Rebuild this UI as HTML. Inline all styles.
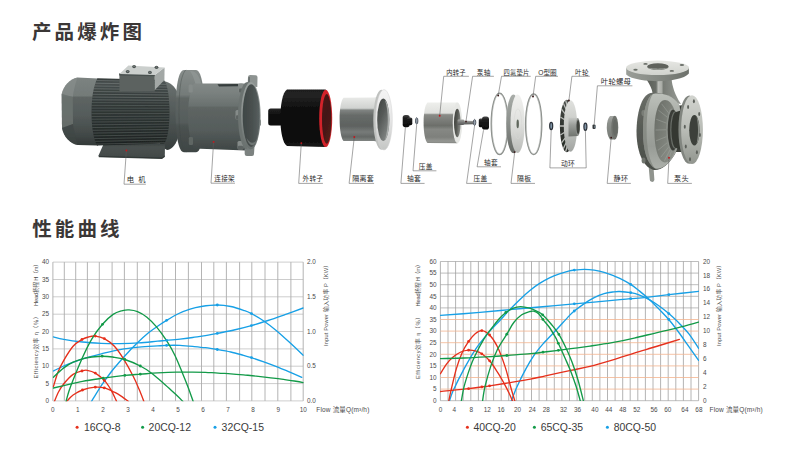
<!DOCTYPE html>
<html lang="en"><head><meta charset="utf-8"><title>产品爆炸图 性能曲线</title>
<style>html,body{margin:0;padding:0;background:#fff}svg{display:block}</style></head>
<body>
<svg width="799" height="453" viewBox="0 0 799 453">
<rect width="799" height="453" fill="#fff"/>
<g font-family="'Liberation Sans','Noto Sans CJK SC',sans-serif" font-weight="bold" font-size="19.5" fill="#3b3736" letter-spacing="3.1"><text x="32" y="38.6">产品爆炸图</text><text x="32.2" y="235.6">性能曲线</text></g>
<defs><filter id="soft" x="-5%" y="-5%" width="110%" height="110%"><feGaussianBlur stdDeviation="0.45"/></filter><linearGradient id="mFan" x1="0" y1="0" x2="0" y2="1"><stop offset="0" stop-color="#7c8381"/><stop offset="0.27" stop-color="#737a78"/><stop offset="0.29" stop-color="#5e6563"/><stop offset="0.55" stop-color="#555c5b"/><stop offset="0.8" stop-color="#454c4b"/><stop offset="1" stop-color="#333938"/></linearGradient><linearGradient id="mBody" x1="0" y1="0" x2="0" y2="1"><stop offset="0" stop-color="#313837"/><stop offset="0.07" stop-color="#495050"/><stop offset="0.2" stop-color="#3b4241"/><stop offset="0.45" stop-color="#2f3635"/><stop offset="0.8" stop-color="#252b2a"/><stop offset="1" stop-color="#1d2221"/></linearGradient><linearGradient id="mBell" x1="0" y1="0" x2="0" y2="1"><stop offset="0" stop-color="#6c7371"/><stop offset="0.3" stop-color="#5a6160"/><stop offset="0.7" stop-color="#474e4d"/><stop offset="1" stop-color="#363d3c"/></linearGradient><linearGradient id="mFoot" x1="0" y1="0" x2="0" y2="1"><stop offset="0" stop-color="#363d3c"/><stop offset="0.3" stop-color="#4a5150"/><stop offset="1" stop-color="#414847"/></linearGradient><linearGradient id="bRim" x1="0" y1="0" x2="0" y2="1"><stop offset="0" stop-color="#7d8482"/><stop offset="0.3" stop-color="#656c6a"/><stop offset="0.7" stop-color="#4f5655"/><stop offset="1" stop-color="#3e4544"/></linearGradient><linearGradient id="bFace" x1="0" y1="0" x2="0" y2="1"><stop offset="0" stop-color="#878d8b"/><stop offset="0.25" stop-color="#767d7b"/><stop offset="0.6" stop-color="#616866"/><stop offset="1" stop-color="#4b5251"/></linearGradient><linearGradient id="bBody" x1="0" y1="0" x2="0" y2="1"><stop offset="0" stop-color="#828886"/><stop offset="0.14" stop-color="#7a817f"/><stop offset="0.33" stop-color="#6a716f"/><stop offset="0.36" stop-color="#5e6563"/><stop offset="0.7" stop-color="#555c5b"/><stop offset="0.85" stop-color="#4a5150"/><stop offset="1" stop-color="#3f4645"/></linearGradient><linearGradient id="bIn" x1="0" y1="0" x2="1" y2="0"><stop offset="0" stop-color="#3f4645"/><stop offset="0.6" stop-color="#4a5150"/><stop offset="1" stop-color="#586060"/></linearGradient><linearGradient id="bRing" x1="0" y1="0" x2="0" y2="1"><stop offset="0" stop-color="#9aa09e"/><stop offset="0.5" stop-color="#868c8a"/><stop offset="1" stop-color="#686f6d"/></linearGradient><linearGradient id="bFl" x1="0" y1="0" x2="0" y2="1"><stop offset="0" stop-color="#878d8b"/><stop offset="0.3" stop-color="#747b79"/><stop offset="0.345" stop-color="#5f6664"/><stop offset="0.64" stop-color="#555c5b"/><stop offset="0.68" stop-color="#4b5251"/><stop offset="1" stop-color="#3e4544"/></linearGradient><linearGradient id="oStub" x1="0" y1="0" x2="0" y2="1"><stop offset="0" stop-color="#242424"/><stop offset="0.3" stop-color="#121212"/><stop offset="1" stop-color="#080808"/></linearGradient><linearGradient id="oBody" x1="0" y1="0" x2="0" y2="1"><stop offset="0" stop-color="#1d1d1d"/><stop offset="0.1" stop-color="#242424"/><stop offset="0.3" stop-color="#111111"/><stop offset="0.7" stop-color="#0a0a0a"/><stop offset="1" stop-color="#141414"/></linearGradient><linearGradient id="oIn" x1="0" y1="0" x2="0.6" y2="1"><stop offset="0" stop-color="#4c1b18"/><stop offset="0.5" stop-color="#431614"/><stop offset="1" stop-color="#531c1a"/></linearGradient><linearGradient id="iBody" x1="0" y1="0" x2="0" y2="1"><stop offset="0" stop-color="#ecedeb"/><stop offset="0.105" stop-color="#e8e9e7"/><stop offset="0.3" stop-color="#d0d2d0"/><stop offset="0.335" stop-color="#808482"/><stop offset="0.43" stop-color="#676b69"/><stop offset="0.63" stop-color="#5e6260"/><stop offset="0.74" stop-color="#777b79"/><stop offset="0.83" stop-color="#656967"/><stop offset="0.907" stop-color="#808482"/><stop offset="1" stop-color="#a0a3a1"/></linearGradient><linearGradient id="iHole" x1="0" y1="0" x2="0.7" y2="1"><stop offset="0" stop-color="#3f4341"/><stop offset="0.45" stop-color="#555957"/><stop offset="1" stop-color="#838785"/></linearGradient><linearGradient id="iFl" x1="0" y1="0" x2="0" y2="1"><stop offset="0" stop-color="#f4f4f4"/><stop offset="0.5" stop-color="#e6e6e6"/><stop offset="1" stop-color="#c4c6c4"/></linearGradient><linearGradient id="blk" x1="0" y1="0" x2="0" y2="1"><stop offset="0" stop-color="#4a4a4a"/><stop offset="0.25" stop-color="#1e1e1e"/><stop offset="1" stop-color="#0c0c0c"/></linearGradient><linearGradient id="rBody" x1="0" y1="0" x2="0" y2="1"><stop offset="0" stop-color="#eeefec"/><stop offset="0.26" stop-color="#dfe0dd"/><stop offset="0.3" stop-color="#8a8c88"/><stop offset="0.5" stop-color="#747672"/><stop offset="0.57" stop-color="#6c6e6a"/><stop offset="0.66" stop-color="#868884"/><stop offset="0.85" stop-color="#7e807c"/><stop offset="0.95" stop-color="#949692"/><stop offset="1" stop-color="#848682"/></linearGradient><linearGradient id="rHole" x1="0" y1="0" x2="1" y2="0.3"><stop offset="0" stop-color="#3c3e3a"/><stop offset="0.55" stop-color="#575954"/><stop offset="1" stop-color="#858783"/></linearGradient><linearGradient id="sh" x1="0" y1="0" x2="0" y2="1"><stop offset="0" stop-color="#a9aaa8"/><stop offset="0.5" stop-color="#777977"/><stop offset="1" stop-color="#575957"/></linearGradient><linearGradient id="pRim" x1="0" y1="0" x2="0" y2="1"><stop offset="0" stop-color="#a9ada9"/><stop offset="0.5" stop-color="#8a8e8a"/><stop offset="1" stop-color="#666a66"/></linearGradient><linearGradient id="pFace" x1="0" y1="0" x2="0" y2="1"><stop offset="0" stop-color="#f1f1ef"/><stop offset="0.5" stop-color="#dfe0dd"/><stop offset="1" stop-color="#b9bbb8"/></linearGradient><linearGradient id="impB" x1="0" y1="0" x2="0" y2="1"><stop offset="0" stop-color="#4a4e4a"/><stop offset="0.5" stop-color="#30342f"/><stop offset="1" stop-color="#2a2e29"/></linearGradient><linearGradient id="impF" x1="0" y1="0" x2="0" y2="1"><stop offset="0" stop-color="#e0e1de"/><stop offset="0.5" stop-color="#c6c8c4"/><stop offset="1" stop-color="#a1a4a1"/></linearGradient><linearGradient id="hub" x1="0" y1="0" x2="0" y2="1"><stop offset="0" stop-color="#c9cbc8"/><stop offset="0.4" stop-color="#9a9d99"/><stop offset="1" stop-color="#6f736e"/></linearGradient><linearGradient id="stB" x1="0" y1="0" x2="0" y2="1"><stop offset="0" stop-color="#a5a8a4"/><stop offset="0.3" stop-color="#8c908b"/><stop offset="1" stop-color="#767a75"/></linearGradient><linearGradient id="phTop" x1="0" y1="0" x2="0" y2="1"><stop offset="0" stop-color="#e6e7e3"/><stop offset="1" stop-color="#d0d2cd"/></linearGradient><linearGradient id="phTh" x1="0" y1="0" x2="1" y2="0"><stop offset="0" stop-color="#9a9e98"/><stop offset="0.5" stop-color="#858983"/><stop offset="1" stop-color="#6d716b"/></linearGradient><linearGradient id="phNeck" x1="0" y1="0" x2="1" y2="0"><stop offset="0" stop-color="#585c55"/><stop offset="0.3" stop-color="#6a6e68"/><stop offset="0.36" stop-color="#bcbeb9"/><stop offset="0.46" stop-color="#a9aca6"/><stop offset="0.5" stop-color="#777b75"/><stop offset="1" stop-color="#999d97"/></linearGradient><linearGradient id="phOut" x1="0" y1="0" x2="1" y2="0"><stop offset="0" stop-color="#4a4e48"/><stop offset="0.12" stop-color="#6c706a"/><stop offset="0.3" stop-color="#7b7f79"/><stop offset="1" stop-color="#8c908a"/></linearGradient><linearGradient id="phRim" x1="0" y1="0" x2="0.4" y2="1"><stop offset="0" stop-color="#c6c9c4"/><stop offset="0.5" stop-color="#b0b4ae"/><stop offset="1" stop-color="#8f938d"/></linearGradient><linearGradient id="phIn" x1="0" y1="0" x2="1" y2="1"><stop offset="0" stop-color="#50544e"/><stop offset="0.5" stop-color="#686c64"/><stop offset="1" stop-color="#82867f"/></linearGradient><linearGradient id="phFl" x1="0" y1="0" x2="0" y2="1"><stop offset="0" stop-color="#d2d4cf"/><stop offset="0.5" stop-color="#b9bcb6"/><stop offset="1" stop-color="#92968f"/></linearGradient><linearGradient id="phEdge" x1="0" y1="0" x2="0" y2="1"><stop offset="0" stop-color="#6a6e68"/><stop offset="0.5" stop-color="#565a54"/><stop offset="1" stop-color="#4a4e48"/></linearGradient><linearGradient id="phTor" x1="0" y1="0" x2="0" y2="1"><stop offset="0" stop-color="#bcc0ba"/><stop offset="0.35" stop-color="#a6aaa4"/><stop offset="0.7" stop-color="#989c96"/><stop offset="1" stop-color="#acb0aa"/></linearGradient><linearGradient id="phCone" x1="0" y1="0" x2="1" y2="0.6"><stop offset="0" stop-color="#666a64"/><stop offset="0.5" stop-color="#7a7e77"/><stop offset="1" stop-color="#8c9089"/></linearGradient></defs>
<g filter="url(#soft)">
<path d="M162 81 C174 82 181.5 93 181.5 113 C181.5 134 176 149 167 150 L160 146 Z" fill="url(#mBell)"/>
<path d="M104.5 142 L165 143.5 L164.8 157 L162 158.9 L98.9 157.2 L98.5 155.6 Z" fill="url(#mFoot)"/>
<path d="M98.9 156.4 L162 158 L164.8 156" stroke="#2a302f" stroke-width="0.8" fill="none"/>
<path d="M77.5 77.4 L98 78.4 L98 145.6 L77.5 145 C70 143.5 63.8 137 62 128 L61.7 94 C63.5 85.5 70 79 77.5 77.4 Z" fill="url(#mFan)"/>
<path d="M77.5 77.4 C70 79 63.5 85.5 61.7 94 L72.8 97 C74 88 76 82 77.5 77.4 Z" fill="#8c9290" opacity="0.55"/>
<path d="M72.8 97 L61.7 94 L62 128 L73 124 Z" fill="#6b7270" opacity="0.85"/>
<path d="M73 124 L62 128 C63.8 137 70 143.5 77.5 145 C76 139 74 132 73 124 Z" fill="#3f4645" opacity="0.6"/>
<path d="M97.5 78.3 L164 79.9 C167.5 84 169.5 98 169.5 112 C169.5 127 167.5 140 164 143.4 L97 145.6 C93 138 91.5 125 91.5 112 C91.5 98 93.5 86 97.5 78.3 Z" fill="url(#mBody)"/>
<clipPath id="mbc"><path d="M97.5 78.3 L164 79.9 C167.5 84 169.5 98 169.5 112 C169.5 127 167.5 140 164 143.4 L97 145.6 C93 138 91.5 125 91.5 112 C91.5 98 93.5 86 97.5 78.3 Z"/></clipPath>
<path d="M91 102.59L170 102.95M91 105.37L170 105.59M91 108.14L170 108.23M91 110.91L170 110.88M91 113.69L170 113.52M91 116.46L170 116.17M91 119.23L170 118.81M91 122.01L170 121.45M91 124.78L170 124.10M91 127.56L170 126.74M91 130.33L170 129.38M91 133.10L170 132.03M91 135.88L170 134.67M91 138.65L170 137.31M91 141.43L170 139.96M91 144.20L170 142.60" stroke="#7f8684" stroke-width="0.9" opacity="0.4" clip-path="url(#mbc)" fill="none"/>
<path d="M91 80.40L170 81.80M91 83.17L170 84.44M91 85.95L170 87.09M91 88.72L170 89.73M91 91.50L170 92.37M91 94.27L170 95.02M91 97.04L170 97.66M91 99.82L170 100.30" stroke="#8a918f" stroke-width="0.9" opacity="0.5" clip-path="url(#mbc)" fill="none"/>
<path d="M119.4 73.9 L154.8 74.9 L154.8 91.6 L119.4 91.2 Z" fill="#5b6260"/>
<path d="M119.2 73.3 L155 74.3 L155 76.2 L119.2 75.4 Z" fill="#4a5150"/>
<path d="M154.8 74.9 L164.6 67.4 L164.4 80 L154.8 90 Z" fill="#a3a8a6"/>
<path d="M119.4 73.9 L128.4 65.4 L164.6 67.4 L154.8 74.9 Z" fill="#cbcfcd"/>
<ellipse cx="134.1" cy="66.6" rx="1.9" ry="1.6" fill="#4d5453"/>
<ellipse cx="134.1" cy="66.4" rx="0.8" ry="0.7" fill="#7a817f"/>
<ellipse cx="156.5" cy="67.3" rx="1.9" ry="1.6" fill="#4d5453"/>
<ellipse cx="156.5" cy="67.1" rx="0.8" ry="0.7" fill="#7a817f"/>
<ellipse cx="127.7" cy="71.6" rx="1.9" ry="1.6" fill="#4d5453"/>
<ellipse cx="127.7" cy="71.4" rx="0.8" ry="0.7" fill="#7a817f"/>
<ellipse cx="149.9" cy="72.4" rx="1.9" ry="1.6" fill="#4d5453"/>
<ellipse cx="149.9" cy="72.2" rx="0.8" ry="0.7" fill="#7a817f"/>
<path d="M184 69.9 C178.5 69.9 175.6 86 175.6 111 C175.6 136 178.5 152.3 184 152.3 L196 152.3 C201.2 152.3 204.2 136 204.2 111 C204.2 86 201.2 69.9 196 69.9 Z" fill="url(#bFl)"/>
<path d="M186 69.9 C181 74 179 90 179 111 C179 132 181 148 186 152.3" stroke="#3f4645" stroke-width="0.7" fill="none" opacity="0.55"/>
<path d="M190 71 C196 70.5 200.5 76 202.6 90 L196 86 C194.5 80 192.5 74 190 71 Z" fill="#959b99" opacity="0.6"/>
<path d="M194 83.6 L246 83.6 L246 150.5 L194 148.6 C189.5 140 188 126 188 116 C188 104 189.5 92 194 83.6 Z" fill="url(#bBody)"/>
<rect x="188.6" y="84.5" width="4.2" height="8" rx="1.3" fill="#858b89"/>
<rect x="188.8" y="137" width="4.2" height="8" rx="1.3" fill="#5f6664"/>
<path d="M217.5 84.2 L238 84 L238 86.3 L219 86.6 Z" fill="#363d3c"/>
<rect x="238.5" y="83.5" width="5.0" height="9.0" rx="1.5" fill="#858b89"/>
<rect x="239.0" y="88.5" width="4.0" height="4.0" rx="1" fill="#5d6462"/>
<rect x="235.5" y="110.0" width="6.0" height="9.5" rx="1.5" fill="#858b89"/>
<rect x="236.0" y="115.2" width="5.0" height="4.3" rx="1" fill="#5d6462"/>
<rect x="237.5" y="141.0" width="6.0" height="8.5" rx="1.5" fill="#858b89"/>
<rect x="238.0" y="145.7" width="5.0" height="3.8" rx="1" fill="#5d6462"/>
<path d="M247.6 86 L248 77 Q248.2 75 250.2 75 L255.6 75.2 Q257.6 75.4 257.5 77.5 L257.3 87 Z" fill="#8d9391"/>
<path d="M248 84 L248.3 77.2 L250 77 L250 85 Z" fill="#6a716f"/>
<path d="M244.6 145 L244.7 154 Q244.8 156 246.8 156 L252 156 Q254 156 254 154 L254.6 145 Z" fill="#7b8280"/>
<path d="M257.5 119 L259.8 119.2 Q261 119.4 261 120.8 L261 124.4 Q261 125.8 259.8 126 L257.5 126.2 Z" fill="#8a908e"/>
<ellipse cx="247.2" cy="115.8" rx="9.2" ry="33.8" fill="#6c7371"/>
<rect x="247.2" y="82" width="3.6" height="67.6" fill="#757c7a"/>
<ellipse cx="250.8" cy="115.7" rx="9.8" ry="33.6" fill="url(#bRing)"/>
<ellipse cx="251.2" cy="115.6" rx="8.5" ry="31.4" fill="url(#bIn)"/>
<path d="M246.5 138 C249 146 254 148.5 257 139.5 C254 144 250 144 246.5 138 Z" fill="#6e7573"/>
<rect x="268.2" y="108.5" width="16" height="17" rx="2.5" fill="url(#oStub)"/>
<path d="M287 89.6 L325.7 89.6 L325.7 147 L287 146 C282.5 143 280.4 131 280.4 118.2 C280.4 105 282.5 92.5 287 89.6 Z" fill="url(#oBody)"/>
<ellipse cx="325.7" cy="118.4" rx="6.5" ry="28.7" fill="#d3242b"/>
<ellipse cx="326.7" cy="118.9" rx="4.7" ry="24.8" fill="url(#oIn)"/>
<path d="M343.5 97.7 L374 97.6 Q379 97 381 92 L381 146 Q379 141.5 374 141 L343.5 141 C341 138.5 339.6 129 339.6 119.3 C339.6 109 341 100 343.5 97.7 Z" fill="url(#iBody)"/>
<ellipse cx="381.6" cy="119.8" rx="8.3" ry="30" fill="#bfc1bf"/>
<ellipse cx="384" cy="119.8" rx="8.3" ry="30.2" fill="url(#iFl)" stroke="#d2d3d2" stroke-width="0.5"/>
<ellipse cx="383.3" cy="119.8" rx="6.1" ry="21.2" fill="url(#iHole)"/>
<path d="M385 100 C388.5 104 389.4 113 389.4 119.8 C389.4 127 388.5 135 385 140 C387 133 387.8 126 387.8 119.8 C387.8 113 387 106 385 100 Z" fill="#a9adab"/>
<rect x="402.7" y="115" width="7" height="12.2" rx="2.6" fill="url(#blk)"/>
<rect x="407" y="117.4" width="5.3" height="7.8" rx="1.6" fill="url(#blk)"/>
<ellipse cx="416.7" cy="120.9" rx="1.2" ry="3.2" fill="#97a2ae" stroke="#4a5058" stroke-width="0.9"/>
<path d="M427.5 102.6 L457.4 102.5 L457.4 143.2 L427.5 143.1 C425 141 423.6 132 423.6 122.8 C423.6 113 425 105 427.5 102.6 Z" fill="url(#rBody)"/>
<ellipse cx="457.4" cy="122.8" rx="4.7" ry="20.3" fill="#e6e7e4"/>
<ellipse cx="457.3" cy="123" rx="3.3" ry="14.2" fill="url(#rHole)"/>
<rect x="457.6" y="119.4" width="6.5" height="5.7" rx="1" fill="url(#sh)"/>
<path d="M464 120.6 L473.5 120.9 L473.5 124.3 L464 124.4 Z" fill="url(#sh)"/>
<ellipse cx="474.6" cy="122.4" rx="1.2" ry="3" fill="#97a2ae" stroke="#4a5058" stroke-width="0.9"/>
<rect x="478.8" y="118.6" width="5.4" height="8.6" rx="1.5" fill="url(#blk)"/>
<rect x="482" y="116.4" width="7" height="13.2" rx="2.6" fill="url(#blk)"/>
<ellipse cx="499.6" cy="123.8" rx="8.3" ry="30.6" fill="none" stroke="#8c908c" stroke-width="1.5"/>
<ellipse cx="499.6" cy="123.8" rx="7.6" ry="29.8" fill="none" stroke="#cfd1cf" stroke-width="0.5"/>
<ellipse cx="513.4" cy="123.8" rx="7.2" ry="29.4" fill="url(#pRim)"/>
<ellipse cx="517.6" cy="123.8" rx="7.1" ry="29.2" fill="url(#pFace)"/>
<ellipse cx="517.9" cy="123.8" rx="3.8" ry="15" fill="none" stroke="#d6d7d5" stroke-width="0.5"/>
<ellipse cx="517.7" cy="123.9" rx="1.2" ry="4.4" fill="#5e665c"/>
<ellipse cx="533.7" cy="124.2" rx="8" ry="30.3" fill="none" stroke="#8c908c" stroke-width="1.5"/>
<ellipse cx="533.7" cy="124.2" rx="7.3" ry="29.5" fill="none" stroke="#cfd1cf" stroke-width="0.5"/>
<ellipse cx="551.2" cy="126" rx="1.5" ry="3.6" fill="#7f94a6" stroke="#2a3038" stroke-width="1.2"/>
<ellipse cx="566.8" cy="126" rx="6.9" ry="26.2" fill="url(#impB)"/>
<path d="M565.6 100.2L567.7 107.3M563.3 103.3L566.2 109.5M561.5 109.2L565.1 113.8M560.3 117.0L564.3 119.5M559.9 126.0L564.0 126.0M560.3 135.0L564.3 132.5M561.5 142.8L565.1 138.2M563.3 148.7L566.2 142.5M565.6 151.8L567.7 144.7" stroke="#b9bbb8" stroke-width="1.3" fill="none"/>
<ellipse cx="570.5" cy="126" rx="6.7" ry="25.8" fill="url(#impF)"/>
<path d="M568.5 117.4 L577.9 118 L577.9 136 L568.5 136.6 Z" fill="url(#hub)"/>
<ellipse cx="577.9" cy="127" rx="2.1" ry="9" fill="#8f928e"/>
<ellipse cx="578.1" cy="127.1" rx="1.6" ry="7" fill="#3f433e"/>
<ellipse cx="585.4" cy="126.8" rx="1.5" ry="3.6" fill="#7f94a6" stroke="#2a3038" stroke-width="1.2"/>
<rect x="592.5" y="124.5" width="3" height="4.6" rx="1" fill="#34383a"/>
<ellipse cx="595.1" cy="126.8" rx="0.9" ry="1.6" fill="#7a8890"/>
<path d="M610 115.9 L614.8 115.9 L614.8 139.4 L610 139.4 C608 137 606.8 132 606.8 127.6 C606.8 122 608 118 610 115.9 Z" fill="url(#stB)"/>
<ellipse cx="614.8" cy="127.6" rx="3.5" ry="11.8" fill="#6f736e"/>
<ellipse cx="615.1" cy="127.6" rx="2.3" ry="8.2" fill="#666a65"/>
<path d="M648.6 166 L653.6 168.5 L654.4 180 Q653.6 182.3 651.6 181.8 Q649.6 181.3 649.8 179.4 Z" fill="#90948e"/>
<path d="M645.5 78 L671.5 78 C672 86 675 95 681 104 L651 100 C655 94 651 86 645.5 78 Z" fill="url(#phNeck)"/>
<path d="M626.2 68 L626.2 74.5 C631 79.5 648 81.2 657.6 81.2 C669 81.2 685 78.8 688.9 73.5 L688.9 68 Z" fill="url(#phTh)"/>
<ellipse cx="657.6" cy="67.8" rx="31.5" ry="7.2" fill="url(#phTop)"/>
<ellipse cx="657.9" cy="66.7" rx="10.8" ry="3.4" fill="#5e625c"/>
<path d="M647.4 67.6 C650 70.6 666 70.6 668.4 67.6 C666 69 650 69 647.4 67.6 Z" fill="#a5a9a3"/>
<ellipse cx="645.5" cy="63.9" rx="2.2" ry="0.95" fill="#6b6f69"/>
<ellipse cx="635.5" cy="69.8" rx="2.2" ry="0.95" fill="#6b6f69"/>
<ellipse cx="681.9" cy="65.0" rx="2.2" ry="0.95" fill="#6b6f69"/>
<ellipse cx="671.8" cy="70.9" rx="2.2" ry="0.95" fill="#6b6f69"/>
<path d="M668 107 L684 105 L684 152 L668 152 Z" fill="#3c403a"/>
<path d="M650.5 93 C643 95 637 108 636.5 131 C636.5 150 642 166 652.8 169.7 C660 171 668 166 675 154 C681 142 682.5 120 679.5 106 C676 98 662 91 650.5 93 Z" fill="url(#phEdge)"/>
<ellipse cx="643.4" cy="113" rx="2" ry="3" fill="#7a7e78"/>
<ellipse cx="643.6" cy="160.5" rx="2" ry="3" fill="#70746e"/>
<path d="M653 94 C647 97 643 110 643 131 C643 150 647 164 655 168.4 C661.5 170 668 165 675 154 C681 142 682.5 120 679.5 106 C676 98 665 92 653 94 Z" fill="url(#phTor)"/>
<path d="M653 94 C647 97 643 110 643 131 C643 150 647 164 655 168.4 C649.5 162 646.6 148 646.6 131 C646.6 112 649 99 653 94 Z" fill="#7d817b" opacity="0.7"/>
<path d="M665 100 C672 100 677.5 113 677.5 131 C677.5 149 672 162.4 665 162.4 C658.6 162.4 654.4 149 654.4 131 C654.4 113 658.6 100 665 100 Z" fill="url(#phCone)"/>
<path d="M668.9 113.3L661.6 103.8M667.4 117.3L658.4 110.2M666.4 123.1L656.3 119.3M666.0 129.8L655.5 130.0M666.3 136.7L656.1 140.8M667.2 142.7L658.0 150.3M668.6 147.1L660.9 157.2M670.3 149.3L664.5 160.7M672.1 149.0L668.4 160.2" stroke="#a6aaa4" stroke-width="1" fill="none" opacity="0.45"/>
<ellipse cx="671.8" cy="130" rx="5.6" ry="21.5" fill="#8d918b"/>
<ellipse cx="673" cy="130" rx="5.3" ry="20.6" fill="#3a3e38"/>
<ellipse cx="675" cy="130" rx="4.8" ry="18.6" fill="#6a6e68"/>
<ellipse cx="676" cy="130" rx="4.6" ry="18" fill="#343832"/>
<path d="M676 112 L684 109.5 L684 150.5 L676 148 Z" fill="#343832"/>
<ellipse cx="689.2" cy="129.6" rx="10.8" ry="34.2" fill="#81857f"/>
<ellipse cx="692" cy="129.6" rx="10.9" ry="34.4" fill="url(#phFl)"/>
<ellipse cx="694.4" cy="130.2" rx="5.2" ry="15.2" fill="#3c403a"/>
<path d="M696.5 116.5 C699 121 699.6 126 699.6 130.2 C699.6 135 699 140 696.5 144 C697.6 139 698 135 698 130.2 C698 126 697.6 121 696.5 116.5 Z" fill="#8a8e88"/>
<ellipse cx="693.9" cy="101.2" rx="1" ry="2" fill="#5d615b"/>
<ellipse cx="699.2" cy="114.0" rx="1" ry="2" fill="#5d615b"/>
<ellipse cx="699.9" cy="134.9" rx="1" ry="2" fill="#5d615b"/>
<ellipse cx="696.9" cy="152.3" rx="1" ry="2" fill="#5d615b"/>
<ellipse cx="690.0" cy="159.2" rx="1" ry="2" fill="#5d615b"/>
<ellipse cx="685.8" cy="146.5" rx="1" ry="2" fill="#5d615b"/>
<ellipse cx="684.8" cy="126.8" rx="1" ry="2" fill="#5d615b"/>
<ellipse cx="688.1" cy="107.0" rx="1" ry="2" fill="#5d615b"/>
</g>
<path d="M126.4 150.5L124.0 184.2L145.9 184.2" stroke="#5a5a5a" stroke-width="0.55" fill="none"/>
<circle cx="126.4" cy="150.5" r="0.95" fill="#c4161c"/>
<path d="M213.6 141.9L211.0 183.2L235.0 183.2" stroke="#5a5a5a" stroke-width="0.55" fill="none"/>
<circle cx="213.6" cy="141.9" r="0.95" fill="#c4161c"/>
<path d="M301.3 143.1L298.7 183.4L322.9 183.4" stroke="#5a5a5a" stroke-width="0.55" fill="none"/>
<circle cx="301.3" cy="143.1" r="0.95" fill="#c4161c"/>
<path d="M354.3 137.0L349.1 183.4L374.1 183.4" stroke="#5a5a5a" stroke-width="0.55" fill="none"/>
<circle cx="354.3" cy="137.0" r="0.95" fill="#c4161c"/>
<path d="M405.4 127.1L400.9 183.4L424.6 183.4" stroke="#5a5a5a" stroke-width="0.55" fill="none"/>
<path d="M416.7 124.5L413.0 170.8L436.4 170.8" stroke="#5a5a5a" stroke-width="0.55" fill="none"/>
<path d="M439.7 115.8L443.7 76.3L468.9 76.3" stroke="#5a5a5a" stroke-width="0.55" fill="none"/>
<circle cx="439.7" cy="115.8" r="0.95" fill="#c4161c"/>
<path d="M466.0 121.1L472.6 76.3L493.9 76.3" stroke="#5a5a5a" stroke-width="0.55" fill="none"/>
<circle cx="466.0" cy="121.6" r="0.95" fill="#3a1a1a"/>
<path d="M474.6 125.5L466.6 183.4L491.8 183.4" stroke="#5a5a5a" stroke-width="0.55" fill="none"/>
<path d="M483.5 130.2L477.1 166.8L501.0 166.8" stroke="#5a5a5a" stroke-width="0.55" fill="none"/>
<path d="M498.2 95.6L501.5 76.3L530.7 76.3" stroke="#5a5a5a" stroke-width="0.55" fill="none"/>
<circle cx="498.2" cy="95.6" r="0.95" fill="#3a1a1a"/>
<path d="M514.7 152.1L511.0 183.4L535.0 183.4" stroke="#5a5a5a" stroke-width="0.55" fill="none"/>
<circle cx="514.7" cy="152.1" r="0.95" fill="#3a1a1a"/>
<path d="M533.0 96.5L535.7 76.3L558.0 76.3" stroke="#5a5a5a" stroke-width="0.55" fill="none"/>
<circle cx="533.0" cy="96.5" r="0.95" fill="#3a1a1a"/>
<path d="M551.2 130.0L549.9 167.9L586.2 167.9L585.4 130.5" stroke="#5a5a5a" stroke-width="0.55" fill="none"/>
<path d="M568.9 100.5L571.9 76.3L589.8 76.3" stroke="#5a5a5a" stroke-width="0.55" fill="none"/>
<circle cx="568.9" cy="100.5" r="0.95" fill="#3a1a1a"/>
<path d="M594.2 124.4L597.4 85.8L632.4 85.8" stroke="#5a5a5a" stroke-width="0.55" fill="none"/>
<path d="M611.2 137.6L607.2 183.4L630.9 183.4" stroke="#5a5a5a" stroke-width="0.55" fill="none"/>
<circle cx="611.2" cy="137.6" r="0.95" fill="#3a1a1a"/>
<path d="M669.0 157.7L667.7 183.4L691.9 183.4" stroke="#5a5a5a" stroke-width="0.55" fill="none"/>
<circle cx="669.0" cy="157.7" r="0.95" fill="#c4161c"/>
<g font-family="'Liberation Sans','Noto Sans CJK SC',sans-serif" fill="#2b2b2b"><text x="126.7" y="182.4" font-size="7.30" textLength="18.9" lengthAdjust="spacing">电 机</text><text x="214.3" y="181.4" font-size="6.63" textLength="20.3" lengthAdjust="spacing">连接架</text><text x="302.6" y="181.4" font-size="6.63" textLength="20.3" lengthAdjust="spacing">外转子</text><text x="352.3" y="181.4" font-size="6.96" textLength="21.3" lengthAdjust="spacing">隔离套</text><text x="407.0" y="181.4" font-size="6.81" textLength="13.9" lengthAdjust="spacing">轴套</text><text x="418.8" y="168.9" font-size="6.66" textLength="13.6" lengthAdjust="spacing">压盖</text><text x="446.3" y="74.7" font-size="6.34" textLength="19.4" lengthAdjust="spacing">内转子</text><text x="476.8" y="74.7" font-size="6.66" textLength="13.6" lengthAdjust="spacing">泵轴</text><text x="473.4" y="181.4" font-size="6.71" textLength="13.7" lengthAdjust="spacing">压盖</text><text x="484.0" y="164.9" font-size="6.66" textLength="13.6" lengthAdjust="spacing">轴套</text><text x="503.6" y="74.7" font-size="6.30" textLength="25.7" lengthAdjust="spacing">四氟垫片</text><text x="517.1" y="181.4" font-size="6.81" textLength="13.9" lengthAdjust="spacing">隔板</text><text x="538.3" y="74.7" font-size="6.60" textLength="18.4" lengthAdjust="spacing">O型圈</text><text x="561.0" y="165.8" font-size="6.81" textLength="13.9" lengthAdjust="spacing">动环</text><text x="575.1" y="74.7" font-size="6.57" textLength="13.4" lengthAdjust="spacing">叶轮</text><text x="600.8" y="84.1" font-size="7.40" textLength="30.2" lengthAdjust="spacing">叶轮螺母</text><text x="613.5" y="181.4" font-size="7.10" textLength="14.5" lengthAdjust="spacing">静环</text><text x="674.0" y="181.4" font-size="7.20" textLength="14.7" lengthAdjust="spacing">泵头</text></g>
<path d="M52.9 262.1V400.9M64.3 262.1V400.9M75.7 262.1V400.9M87.4 262.1V400.9M99.3 262.1V400.9M112.1 262.1V400.9M124.4 262.1V400.9M137.3 262.1V400.9M149.6 262.1V400.9M162.4 262.1V400.9M175.5 262.1V400.9M188.4 262.1V400.9M201.5 262.1V400.9M213.8 262.1V400.9M226.4 262.1V400.9M239.6 262.1V400.9M251.8 262.1V400.9M265.0 262.1V400.9M277.8 262.1V400.9M290.9 262.1V400.9M303.2 262.1V400.9" stroke="#858585" stroke-width="0.62" fill="none"/>
<path d="M52.9 262.1H303.2M52.9 279.5H303.2M52.9 296.8H303.2M52.9 314.2H303.2M52.9 331.5H303.2M52.9 348.9H303.2M52.9 366.2H303.2M52.9 383.6H303.2M52.9 400.9H303.2" stroke="#adadad" stroke-width="0.62" fill="none"/>
<clipPath id="c1"><rect x="52.5" y="255" width="251.2" height="146.2"/></clipPath>
<g clip-path="url(#c1)" fill="none" stroke-width="1.35" stroke-linecap="round">
<path d="M91.4 401.5C93.1 398.9 98.1 390.5 101.3 385.7C104.5 380.9 107.6 376.6 110.7 372.5C113.8 368.4 117.0 364.9 120.1 361.3C123.2 357.7 126.3 354.3 129.4 351.0C132.5 347.7 135.7 344.6 138.8 341.6C141.9 338.6 145.1 335.7 148.2 333.1C151.3 330.6 154.5 328.4 157.6 326.3C160.7 324.2 163.1 322.4 166.6 320.3C170.1 318.2 174.9 315.4 178.8 313.5C182.7 311.6 186.3 310.3 190.1 309.1C193.8 307.9 196.8 307.2 201.3 306.5C205.8 305.8 212.4 305.0 217.3 305.0C222.2 305.0 226.4 305.6 230.8 306.5C235.2 307.4 240.1 309.1 243.5 310.3C246.9 311.5 248.0 311.8 251.4 313.6C254.8 315.4 259.6 318.1 263.8 321.0C268.0 323.9 272.3 327.2 276.5 330.7C280.7 334.2 284.8 338.0 289.2 342.1C293.6 346.2 300.9 353.0 303.2 355.2" stroke="#17a0e6"/>
<path d="M53.4 336.9C55.1 337.3 58.9 338.4 63.8 339.3C68.6 340.2 76.2 341.3 82.5 342.0C88.8 342.7 95.0 343.0 101.3 343.3C107.6 343.6 113.8 343.7 120.1 343.6C126.3 343.5 132.6 343.3 138.8 342.9C145.1 342.5 153.0 341.6 157.6 341.2C162.2 340.8 162.9 340.6 166.6 340.3C170.3 340.0 175.7 339.6 180.0 339.1C184.3 338.6 188.5 338.1 192.7 337.5C196.9 336.9 201.3 336.4 205.4 335.7C209.5 335.0 212.5 334.3 217.3 333.4C222.1 332.4 228.3 331.3 234.0 330.0C239.7 328.7 245.7 327.2 251.4 325.6C257.1 324.0 262.4 322.3 268.0 320.5C273.6 318.7 279.1 316.7 285.0 314.6C290.9 312.5 300.2 309.1 303.2 308.0" stroke="#17a0e6"/>
<path d="M53.4 371.0C55.1 370.2 58.9 368.0 63.8 366.0C68.6 364.0 76.2 360.8 82.5 358.8C88.8 356.8 95.0 355.3 101.3 353.8C107.6 352.3 113.8 350.7 120.1 349.6C126.3 348.5 132.6 347.8 138.8 347.2C145.1 346.6 153.0 346.2 157.6 345.9C162.2 345.6 162.9 345.5 166.6 345.4C170.3 345.3 175.7 345.2 180.0 345.4C184.3 345.6 188.5 346.0 192.7 346.4C196.9 346.8 201.3 347.2 205.4 347.7C209.5 348.2 213.1 348.8 217.3 349.5C221.5 350.2 226.4 351.0 230.8 352.0C235.2 353.0 240.1 354.4 243.5 355.3C246.9 356.2 248.0 356.5 251.4 357.6C254.8 358.7 259.6 360.4 263.8 361.9C268.0 363.4 272.3 365.0 276.5 366.7C280.7 368.4 285.0 370.0 289.2 371.8C293.4 373.6 299.7 376.4 301.8 377.3" stroke="#17a0e6"/>
<path d="M53.4 386.6C54.2 384.2 56.3 376.4 58.0 372.0C59.7 367.6 61.3 364.6 63.8 360.3C66.3 356.0 70.1 349.8 73.1 346.3C76.1 342.8 79.4 341.1 82.0 339.5C84.6 337.9 86.3 337.6 88.5 337.0C90.7 336.4 92.7 335.8 95.3 336.1C97.9 336.4 101.1 336.9 104.3 338.6C107.5 340.3 111.2 342.8 114.4 346.3C117.7 349.8 120.7 354.4 123.8 359.4C126.9 364.4 130.7 371.4 133.2 376.3C135.7 381.2 137.2 384.8 139.0 389.0C140.8 393.2 143.1 399.4 143.9 401.5" stroke="#e6301c"/>
<path d="M54.4 401.5C55.1 399.9 56.9 394.9 58.5 392.0C60.1 389.1 61.4 386.7 63.8 383.8C66.2 380.9 70.1 376.5 73.1 374.4C76.1 372.3 79.7 371.7 82.0 371.0C84.3 370.3 85.0 369.9 87.2 370.3C89.4 370.7 92.5 371.4 95.3 373.1C98.1 374.8 101.7 377.7 104.3 380.4C106.9 383.1 108.6 385.9 110.7 389.4C112.8 392.9 115.7 399.5 116.7 401.5" stroke="#e6301c"/>
<path d="M66.6 401.5C67.7 400.4 70.4 396.9 73.1 395.0C75.8 393.1 78.8 391.3 82.5 390.0C86.2 388.7 91.7 387.6 95.3 387.2C98.9 386.8 101.1 387.1 104.3 387.9C107.5 388.7 111.5 390.8 114.4 392.2C117.3 393.6 119.6 395.1 121.9 396.6C124.2 398.2 127.4 400.7 128.5 401.5" stroke="#e6301c"/>
<path d="M66.0 401.5C66.5 399.8 67.8 394.6 69.0 391.0C70.2 387.4 70.8 385.6 73.1 380.0C75.3 374.4 79.4 364.4 82.5 357.5C85.6 350.6 88.6 344.3 91.9 338.8C95.2 333.3 99.0 328.4 102.5 324.3C106.0 320.2 109.8 316.7 113.1 314.4C116.4 312.1 119.8 311.4 122.5 310.6C125.2 309.9 126.6 309.7 129.1 309.9C131.6 310.1 134.5 310.4 137.5 311.6C140.5 312.8 143.8 314.7 146.9 317.2C150.0 319.7 153.0 322.7 156.3 326.6C159.6 330.5 163.5 335.9 166.6 340.7C169.7 345.5 172.4 350.1 175.1 355.7C177.8 361.3 180.8 369.2 183.0 374.4C185.2 379.6 186.3 382.5 188.0 387.0C189.7 391.5 192.3 399.1 193.2 401.5" stroke="#129a48"/>
<path d="M53.4 377.2C55.1 375.6 60.5 370.4 63.8 367.9C67.1 365.4 70.0 363.7 73.1 362.2C76.2 360.7 79.4 359.7 82.5 358.8C85.6 357.9 88.6 357.4 91.9 357.0C95.2 356.6 98.8 356.2 102.2 356.2C105.7 356.2 108.8 356.4 112.6 357.0C116.4 357.6 120.2 358.0 124.8 359.5C129.4 361.0 135.8 363.7 140.3 366.0C144.8 368.3 147.9 370.4 152.0 373.5C156.1 376.6 161.0 381.1 165.1 384.7C169.2 388.3 173.4 392.3 176.4 395.1C179.4 397.9 181.8 400.4 182.9 401.5" stroke="#129a48"/>
<path d="M53.4 388.0C55.1 387.6 58.9 386.8 63.8 385.7C68.6 384.6 75.9 382.6 82.5 381.4C89.1 380.1 96.2 379.2 103.2 378.2C110.2 377.2 118.6 376.1 124.8 375.4C131.0 374.7 134.8 374.6 140.3 374.2C145.8 373.8 151.6 373.2 157.6 372.9C163.6 372.6 170.6 372.3 176.4 372.2C182.2 372.1 187.9 372.1 192.7 372.1C197.5 372.1 201.2 372.1 205.4 372.3C209.6 372.5 213.9 372.9 218.1 373.1C222.3 373.4 226.6 373.5 230.8 373.8C235.0 374.1 239.3 374.5 243.5 374.9C247.7 375.3 252.0 375.6 256.2 376.1C260.4 376.6 264.7 377.2 268.9 377.7C273.1 378.2 277.4 378.6 281.6 379.2C285.8 379.8 290.7 380.4 294.3 381.0C297.9 381.6 301.7 382.3 303.2 382.6" stroke="#129a48"/>
</g>
<circle cx="82.0" cy="339.5" r="1.4" fill="#e6301c"/>
<circle cx="95.3" cy="336.1" r="1.4" fill="#e6301c"/>
<circle cx="104.3" cy="338.6" r="1.4" fill="#e6301c"/>
<circle cx="82.0" cy="371.0" r="1.4" fill="#e6301c"/>
<circle cx="95.3" cy="373.1" r="1.4" fill="#e6301c"/>
<circle cx="104.3" cy="380.4" r="1.4" fill="#e6301c"/>
<circle cx="82.5" cy="390.0" r="1.4" fill="#e6301c"/>
<circle cx="95.3" cy="387.2" r="1.4" fill="#e6301c"/>
<circle cx="104.3" cy="387.9" r="1.4" fill="#e6301c"/>
<circle cx="102.5" cy="324.3" r="1.4" fill="#129a48"/>
<circle cx="102.2" cy="356.2" r="1.4" fill="#129a48"/>
<circle cx="124.8" cy="359.5" r="1.4" fill="#129a48"/>
<circle cx="140.3" cy="366.0" r="1.4" fill="#129a48"/>
<circle cx="103.2" cy="378.2" r="1.4" fill="#129a48"/>
<circle cx="124.8" cy="375.4" r="1.4" fill="#129a48"/>
<circle cx="140.3" cy="374.2" r="1.4" fill="#129a48"/>
<circle cx="166.6" cy="320.3" r="1.4" fill="#17a0e6"/>
<circle cx="217.3" cy="305.0" r="1.4" fill="#17a0e6"/>
<circle cx="251.4" cy="313.6" r="1.4" fill="#17a0e6"/>
<circle cx="166.6" cy="340.3" r="1.4" fill="#17a0e6"/>
<circle cx="217.3" cy="333.4" r="1.4" fill="#17a0e6"/>
<circle cx="251.4" cy="325.6" r="1.4" fill="#17a0e6"/>
<circle cx="166.6" cy="345.4" r="1.4" fill="#17a0e6"/>
<circle cx="217.3" cy="349.5" r="1.4" fill="#17a0e6"/>
<circle cx="251.4" cy="357.6" r="1.4" fill="#17a0e6"/>
<g font-family="'Liberation Sans','Noto Sans CJK SC',sans-serif" font-size="6.4" fill="#4a4a4a"><text x="49" y="264.3" text-anchor="end">40</text><text x="49" y="281.7" text-anchor="end">35</text><text x="49" y="299.0" text-anchor="end">30</text><text x="49" y="316.4" text-anchor="end">25</text><text x="49" y="333.7" text-anchor="end">20</text><text x="49" y="351.1" text-anchor="end">15</text><text x="49" y="368.4" text-anchor="end">10</text><text x="49" y="385.8" text-anchor="end">5</text><text x="49" y="403.1" text-anchor="end">0</text><text x="52.9" y="411.5" text-anchor="middle">0</text><text x="77.9" y="411.5" text-anchor="middle">1</text><text x="103.0" y="411.5" text-anchor="middle">2</text><text x="128.0" y="411.5" text-anchor="middle">3</text><text x="153.0" y="411.5" text-anchor="middle">4</text><text x="178.1" y="411.5" text-anchor="middle">5</text><text x="203.1" y="411.5" text-anchor="middle">6</text><text x="228.1" y="411.5" text-anchor="middle">7</text><text x="253.1" y="411.5" text-anchor="middle">8</text><text x="278.2" y="411.5" text-anchor="middle">9</text><text x="303.2" y="411.5" text-anchor="middle">10</text><text x="307" y="264.3">2.0</text><text x="307" y="299.0">1.5</text><text x="307" y="333.7">1.0</text><text x="307" y="368.4">0.5</text><text x="307" y="403.1">0.0</text><text x="316.3" y="411.5" font-size="6.5" textLength="53" lengthAdjust="spacing">Flow 流量Q(m³/h)</text><text transform="translate(38,306) rotate(-90)" font-size="5.7" textLength="45" lengthAdjust="spacing">Head扬程 H（m）</text><text transform="translate(38,378.5) rotate(-90)" font-size="5.7" textLength="65" lengthAdjust="spacing">Efficiency效率 η（％）</text><text transform="translate(327.5,346) rotate(-90)" font-size="5.7" textLength="84" lengthAdjust="spacing">Input Power 输入功率 P（KW）</text></g>
<path d="M440.4 261.5V400.7M448.0 261.5V400.7M455.6 261.5V400.7M463.2 261.5V400.7M470.8 261.5V400.7M478.4 261.5V400.7M486.0 261.5V400.7M493.6 261.5V400.7M501.2 261.5V400.7M508.7 261.5V400.7M516.3 261.5V400.7M523.9 261.5V400.7M531.5 261.5V400.7M539.1 261.5V400.7M546.7 261.5V400.7M554.3 261.5V400.7M561.9 261.5V400.7M569.5 261.5V400.7M577.1 261.5V400.7M584.7 261.5V400.7M592.3 261.5V400.7M599.9 261.5V400.7M607.5 261.5V400.7M615.1 261.5V400.7M622.7 261.5V400.7M630.2 261.5V400.7M637.8 261.5V400.7M645.4 261.5V400.7M653.0 261.5V400.7M660.6 261.5V400.7M668.2 261.5V400.7M675.8 261.5V400.7M683.4 261.5V400.7M691.0 261.5V400.7M698.6 261.5V400.7" stroke="#858585" stroke-width="0.62" fill="none"/>
<path d="M440.4 389.1H698.6M440.4 377.5H698.6M440.4 365.9H698.6M440.4 354.3H698.6M440.4 342.7H698.6M440.4 331.1H698.6M440.4 319.5H698.6" stroke="#f2b48f" stroke-width="0.8" fill="none"/>
<path d="M440.4 400.7H698.6M440.4 307.9H698.6M440.4 296.3H698.6M440.4 284.7H698.6M440.4 273.1H698.6M440.4 261.5H698.6" stroke="#9a9a9a" stroke-width="0.65" fill="none"/>
<clipPath id="c2"><rect x="440" y="255" width="259" height="146"/></clipPath>
<g clip-path="url(#c2)" fill="none" stroke-width="1.35" stroke-linecap="round">
<path d="M449.4 401.3C450.0 399.5 450.6 396.1 453.1 390.7C455.6 385.2 460.5 375.4 464.2 368.6C467.9 361.8 471.5 355.3 475.2 349.8C478.9 344.3 483.2 339.2 486.2 335.5C489.1 331.8 490.6 330.2 492.9 327.7C495.2 325.2 497.1 323.5 499.9 320.5C502.7 317.5 506.5 313.1 509.8 309.6C513.1 306.1 516.4 302.9 519.7 299.7C523.0 296.5 526.3 293.4 529.6 290.7C532.9 288.0 536.3 285.5 539.6 283.4C542.9 281.2 546.2 279.4 549.5 277.8C552.8 276.2 556.1 275.0 559.4 273.9C562.7 272.8 566.9 271.5 569.4 270.9C571.9 270.3 571.8 270.4 574.3 270.1C576.8 269.8 581.0 269.3 584.3 269.3C587.6 269.3 590.9 269.6 594.2 270.1C597.5 270.6 600.8 271.3 604.1 272.3C607.4 273.3 611.4 274.9 614.0 275.9C616.6 276.9 617.0 277.0 619.8 278.4C622.6 279.8 627.4 282.3 630.7 284.4C634.0 286.5 636.5 288.6 639.6 291.1C642.8 293.7 646.3 296.6 649.6 299.7C652.9 302.8 656.3 306.3 659.5 309.6C662.7 312.9 665.8 316.0 668.8 319.5C671.8 323.0 674.3 326.4 677.4 330.5C680.5 334.6 683.8 339.4 687.3 344.4C690.8 349.4 696.7 357.7 698.6 360.4" stroke="#17a0e6"/>
<path d="M511.2 401.3C512.2 398.8 514.7 391.6 517.2 386.2C519.7 380.8 523.1 373.9 526.0 368.6C528.9 363.3 531.9 358.4 534.8 354.2C537.7 350.0 541.1 346.1 543.6 343.2C546.1 340.3 546.9 339.8 549.5 337.0C552.1 334.2 556.1 330.1 559.4 326.5C562.7 322.9 566.9 318.2 569.4 315.6C571.9 313.0 571.8 313.0 574.3 311.0C576.8 309.0 581.0 305.8 584.3 303.6C587.6 301.4 590.9 299.4 594.2 297.7C597.5 296.0 600.8 294.7 604.1 293.7C607.4 292.7 611.4 292.2 614.0 291.8C616.6 291.4 617.0 291.4 619.8 291.5C622.6 291.6 627.4 292.1 630.7 292.7C634.0 293.3 636.5 293.9 639.6 295.1C642.8 296.3 646.3 298.0 649.6 299.9C652.9 301.8 656.3 303.9 659.5 306.2C662.7 308.5 665.5 310.7 668.8 313.6C672.1 316.5 676.0 320.0 679.4 323.5C682.8 327.0 686.1 330.3 689.3 334.4C692.5 338.5 697.0 346.0 698.6 348.3" stroke="#17a0e6"/>
<path d="M440.5 315.4C447.1 314.9 468.4 313.4 480.0 312.4C491.6 311.4 499.9 310.5 509.8 309.6C519.7 308.7 528.9 308.0 539.6 307.0C550.4 306.0 564.4 304.7 574.3 303.8C584.2 302.9 591.5 302.4 599.1 301.7C606.7 301.0 614.7 300.2 620.0 299.7C625.3 299.2 626.3 299.1 630.7 298.7C635.1 298.3 640.2 298.0 646.6 297.3C653.0 296.6 660.1 295.7 668.8 294.7C677.5 293.7 693.6 291.9 698.6 291.3" stroke="#17a0e6"/>
<path d="M440.5 373.7C441.5 372.1 444.4 367.0 446.5 364.2C448.6 361.4 450.7 359.1 453.1 357.1C455.5 355.1 458.2 353.1 460.8 352.0C463.4 350.9 466.2 350.4 468.6 350.2C471.0 350.0 473.0 350.3 475.2 350.9C477.4 351.5 479.4 352.1 481.8 353.8C484.2 355.5 487.0 357.8 489.6 360.8C492.2 363.8 494.7 367.8 497.3 371.9C499.9 375.9 503.1 381.6 505.0 385.1C506.9 388.6 507.7 390.3 509.0 393.0C510.3 395.7 512.1 399.9 512.7 401.3" stroke="#e6301c"/>
<path d="M448.7 401.3C449.2 398.8 450.7 391.6 452.0 386.2C453.3 380.8 454.7 374.1 456.4 368.6C458.1 363.1 460.0 357.6 462.0 353.1C464.0 348.6 466.4 344.6 468.6 341.4C470.8 338.2 473.0 335.5 475.2 333.7C477.4 331.9 479.4 330.4 481.8 330.6C484.2 330.8 487.0 332.4 489.6 335.0C492.2 337.6 494.7 341.3 497.3 346.5C499.9 351.7 502.8 359.8 505.0 366.4C507.2 373.0 508.9 380.4 510.5 386.2C512.1 392.0 514.2 398.8 514.9 401.3" stroke="#e6301c"/>
<path d="M440.5 391.5C445.2 391.0 461.7 389.5 468.6 388.7C475.5 387.9 478.3 387.4 481.8 386.9C485.3 386.4 485.2 386.5 489.6 385.8C494.0 385.1 501.5 384.0 508.3 382.9C515.1 381.8 524.2 380.4 530.4 379.2C536.6 378.0 538.7 377.3 545.4 375.8C552.1 374.3 563.4 372.0 570.8 370.4C578.2 368.8 583.1 368.1 590.0 366.4C596.9 364.7 604.7 362.4 612.1 360.2C619.5 358.0 626.9 355.4 634.2 353.1C641.6 350.8 648.7 348.8 656.2 346.5C663.7 344.2 675.5 340.6 679.4 339.4" stroke="#e6301c"/>
<path d="M461.3 401.3C461.8 398.8 462.8 391.6 464.2 386.2C465.6 380.8 467.9 373.8 469.7 368.6C471.5 363.5 472.8 360.3 475.2 355.3C477.6 350.3 481.1 343.6 484.0 338.8C486.9 334.0 490.4 329.9 492.9 326.6C495.4 323.3 496.9 321.4 499.0 319.0C501.1 316.6 503.5 314.3 505.8 312.5C508.1 310.7 510.3 309.3 512.8 308.3C515.3 307.3 517.9 306.6 520.7 306.6C523.5 306.6 526.8 307.4 529.6 308.2C532.4 309.0 535.4 310.5 537.6 311.6C539.8 312.7 540.3 312.7 542.6 314.8C544.9 316.9 548.8 321.2 551.5 324.5C554.2 327.8 556.5 330.5 558.9 334.4C561.3 338.3 563.8 343.4 566.0 348.0C568.2 352.6 570.0 356.7 572.0 362.0C574.0 367.3 576.1 373.4 578.0 380.0C579.9 386.6 582.6 397.8 583.5 401.3" stroke="#129a48"/>
<path d="M482.5 401.3C482.9 398.8 483.7 392.0 485.1 386.2C486.5 380.4 488.7 372.5 490.7 366.4C492.7 360.3 494.6 355.2 497.3 349.8C500.0 344.4 504.1 338.8 506.8 334.2C509.6 329.6 511.3 325.7 513.8 322.5C516.3 319.3 519.1 316.6 521.7 314.8C524.3 313.0 527.6 312.2 529.6 311.6C531.6 311.0 532.1 310.8 533.6 311.2C535.1 311.6 537.1 312.4 538.6 313.8C540.1 315.2 541.1 317.1 542.9 319.4C544.7 321.7 547.4 324.5 549.5 327.5C551.6 330.5 554.0 334.8 555.5 337.4C557.0 340.0 556.7 339.9 558.3 343.3C559.9 346.7 562.9 353.2 565.0 358.0C567.1 362.8 569.2 367.3 571.0 372.0C572.8 376.7 574.4 381.1 576.0 386.0C577.6 390.9 579.7 398.8 580.4 401.3" stroke="#129a48"/>
<path d="M440.5 358.6C444.4 358.5 456.6 358.3 464.2 358.0C471.8 357.7 479.1 357.3 486.2 356.9C493.3 356.5 499.4 356.1 506.8 355.5C514.2 354.9 524.4 354.2 530.4 353.6C536.4 353.1 538.3 352.8 543.0 352.2C547.7 351.6 550.6 351.3 558.4 350.3C566.2 349.3 581.0 347.4 590.0 346.1C599.0 344.8 604.7 344.0 612.1 342.7C619.5 341.4 626.9 339.8 634.2 338.1C641.6 336.5 648.9 334.5 656.2 332.8C663.6 331.1 671.2 329.5 678.3 327.7C685.4 325.9 695.2 323.1 698.6 322.2" stroke="#129a48"/>
</g>
<circle cx="468.6" cy="350.2" r="1.4" fill="#e6301c"/>
<circle cx="481.8" cy="353.8" r="1.4" fill="#e6301c"/>
<circle cx="489.6" cy="360.8" r="1.4" fill="#e6301c"/>
<circle cx="468.6" cy="341.4" r="1.4" fill="#e6301c"/>
<circle cx="481.8" cy="330.6" r="1.4" fill="#e6301c"/>
<circle cx="489.6" cy="335.0" r="1.4" fill="#e6301c"/>
<circle cx="468.6" cy="388.7" r="1.4" fill="#e6301c"/>
<circle cx="481.8" cy="386.9" r="1.4" fill="#e6301c"/>
<circle cx="489.6" cy="385.8" r="1.4" fill="#e6301c"/>
<circle cx="505.8" cy="312.5" r="1.4" fill="#129a48"/>
<circle cx="542.6" cy="314.8" r="1.4" fill="#129a48"/>
<circle cx="558.9" cy="334.4" r="1.4" fill="#129a48"/>
<circle cx="506.8" cy="334.2" r="1.4" fill="#129a48"/>
<circle cx="542.9" cy="319.4" r="1.4" fill="#129a48"/>
<circle cx="558.3" cy="343.3" r="1.4" fill="#129a48"/>
<circle cx="506.8" cy="355.5" r="1.4" fill="#129a48"/>
<circle cx="543.0" cy="352.2" r="1.4" fill="#129a48"/>
<circle cx="558.4" cy="350.3" r="1.4" fill="#129a48"/>
<circle cx="574.3" cy="270.1" r="1.4" fill="#17a0e6"/>
<circle cx="630.7" cy="284.4" r="1.4" fill="#17a0e6"/>
<circle cx="668.8" cy="319.5" r="1.4" fill="#17a0e6"/>
<circle cx="574.3" cy="311.0" r="1.4" fill="#17a0e6"/>
<circle cx="630.7" cy="292.7" r="1.4" fill="#17a0e6"/>
<circle cx="668.8" cy="313.6" r="1.4" fill="#17a0e6"/>
<circle cx="574.3" cy="303.8" r="1.4" fill="#17a0e6"/>
<circle cx="630.7" cy="298.7" r="1.4" fill="#17a0e6"/>
<circle cx="668.8" cy="294.7" r="1.4" fill="#17a0e6"/>
<g font-family="'Liberation Sans','Noto Sans CJK SC',sans-serif" font-size="6.4" fill="#4a4a4a"><text x="436.5" y="402.9" text-anchor="end">0</text><text x="436.5" y="391.3" text-anchor="end">5</text><text x="436.5" y="379.7" text-anchor="end">10</text><text x="436.5" y="368.1" text-anchor="end">15</text><text x="436.5" y="356.5" text-anchor="end">20</text><text x="436.5" y="344.9" text-anchor="end">25</text><text x="436.5" y="333.3" text-anchor="end">30</text><text x="436.5" y="321.7" text-anchor="end">35</text><text x="436.5" y="310.1" text-anchor="end">40</text><text x="436.5" y="298.5" text-anchor="end">45</text><text x="436.5" y="286.9" text-anchor="end">50</text><text x="436.5" y="275.3" text-anchor="end">55</text><text x="436.5" y="263.7" text-anchor="end">60</text><text x="440.5" y="411.5" text-anchor="middle">0</text><text x="454.2" y="411.5" text-anchor="middle">4</text><text x="471.2" y="411.5" text-anchor="middle">8</text><text x="487.3" y="411.5" text-anchor="middle">12</text><text x="501.0" y="411.5" text-anchor="middle">16</text><text x="517.6" y="411.5" text-anchor="middle">20</text><text x="532.2" y="411.5" text-anchor="middle">24</text><text x="546.3" y="411.5" text-anchor="middle">28</text><text x="563.5" y="411.5" text-anchor="middle">32</text><text x="577.5" y="411.5" text-anchor="middle">36</text><text x="594.9" y="411.5" text-anchor="middle">40</text><text x="608.8" y="411.5" text-anchor="middle">44</text><text x="622.7" y="411.5" text-anchor="middle">48</text><text x="636.8" y="411.5" text-anchor="middle">52</text><text x="654.0" y="411.5" text-anchor="middle">56</text><text x="667.7" y="411.5" text-anchor="middle">60</text><text x="684.9" y="411.5" text-anchor="middle">64</text><text x="698.9" y="411.5" text-anchor="middle">68</text><text x="703" y="263.6">20</text><text x="703" y="277.5">18</text><text x="703" y="291.4">16</text><text x="703" y="305.4">14</text><text x="703" y="319.3">12</text><text x="703" y="333.2">10</text><text x="703" y="347.1">8</text><text x="703" y="361.0">6</text><text x="703" y="375.0">4</text><text x="703" y="388.9">2</text><text x="703" y="402.8">0</text><text x="709.6" y="411.5" font-size="6.5" textLength="53" lengthAdjust="spacing">Flow 流量Q(m³/h)</text><text transform="translate(420,306.5) rotate(-90)" font-size="5.7" textLength="45" lengthAdjust="spacing">Head扬程 H（m）</text><text transform="translate(420,379) rotate(-90)" font-size="5.7" textLength="65" lengthAdjust="spacing">Efficiency效率 η（％）</text><text transform="translate(721,346) rotate(-90)" font-size="5.7" textLength="84" lengthAdjust="spacing">Input Power 输入功率 P（KW）</text></g>
<g font-family="'Liberation Sans','Noto Sans CJK SC',sans-serif" font-size="10.45" fill="#3a3a3a"><circle cx="77.1" cy="427.3" r="1.5" fill="#e6301c"/><text x="84.0" y="431.2">16CQ-8</text><circle cx="142.6" cy="427.3" r="1.5" fill="#129a48"/><text x="148.6" y="431.2">20CQ-12</text><circle cx="215.0" cy="427.3" r="1.5" fill="#17a0e6"/><text x="221.6" y="431.2">32CQ-15</text><circle cx="467.4" cy="427.3" r="1.5" fill="#e6301c"/><text x="473.4" y="431.2">40CQ-20</text><circle cx="534.4" cy="427.3" r="1.5" fill="#129a48"/><text x="540.7" y="431.2">65CQ-35</text><circle cx="607.4" cy="427.3" r="1.5" fill="#17a0e6"/><text x="613.7" y="431.2">80CQ-50</text></g>
</svg>
</body></html>
